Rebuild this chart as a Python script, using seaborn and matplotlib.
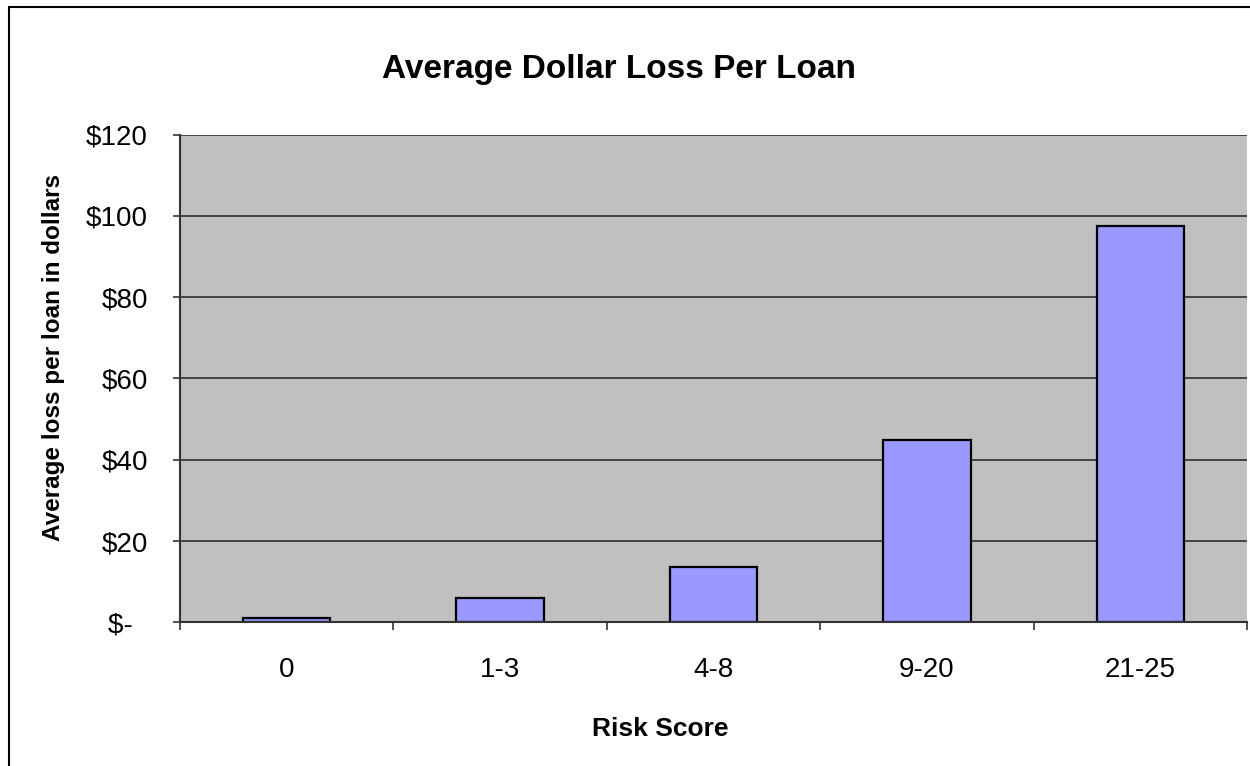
import matplotlib
matplotlib.use("Agg")
import matplotlib.pyplot as plt
import matplotlib.patches as mpatches
from matplotlib.ticker import FixedLocator, FuncFormatter
import seaborn as sns
import pandas as pd

# Risk score buckets and average loss per loan (USD)
risk_scores = ["0", "1-3", "4-8", "9-20", "21-25"]
avg_loss = [1.1, 6.1, 13.7, 44.8, 97.5]
y_ticks = [0, 20, 40, 60, 80, 100, 120]

df = pd.DataFrame({"Risk Score": risk_scores, "Loss": avg_loss})

sns.set_theme(style="white")
plt.rcParams["font.family"] = ["Liberation Sans", "DejaVu Sans"]
plt.rcParams.update({"text.color": "black", "axes.labelcolor": "black",
                     "xtick.color": "black", "ytick.color": "black"})

fig = plt.figure(figsize=(12.5, 7.66), dpi=100)
fig.patch.set_facecolor("white")
ax = fig.add_axes([0.144, 0.1876, 0.8536, 0.6366])
ax.set_facecolor("#C0C0C0")

sns.barplot(data=df, x="Risk Score", y="Loss", color="#9999FF",
            edgecolor="black", linewidth=1.6, width=0.41, saturation=1, ax=ax)

ax.set_ylim(0, 120)
ax.set_xlim(-0.5, len(risk_scores) - 0.5)
ax.yaxis.set_major_locator(FixedLocator(y_ticks))
ax.yaxis.set_major_formatter(FuncFormatter(
    lambda v, p: "$-  " if v == 0 else f"${v:.0f}"))
ax.grid(axis="y", color="#222222", linewidth=1.1)
ax.set_axisbelow(True)

for side in ["top", "right"]:
    ax.spines[side].set_visible(False)
for side in ["left", "bottom"]:
    ax.spines[side].set_color("#333333")
    ax.spines[side].set_linewidth(1.5)

# Tick marks at the category boundaries, labels centred under bars
ax.xaxis.set_minor_locator(FixedLocator([i + 0.5 for i in range(-1, len(risk_scores))]))
ax.tick_params(axis="x", which="major", length=0, pad=25, labelsize=20)
ax.tick_params(axis="x", which="minor", bottom=True, length=5.5, width=1.1, color="#222222")
ax.tick_params(axis="y", which="major", left=True, length=5, width=1.1, color="#222222",
               pad=18, labelsize=20)

ax.set_xlabel("Risk Score", fontsize=19, fontweight="bold")
ax.xaxis.set_label_coords(0.45, -0.195)
ax.set_ylabel("Average loss per loan in dollars", fontsize=17.5, fontweight="bold", va="center")
ax.yaxis.set_label_coords(-0.119, 0.543)

fig.text(0.495, 0.898, "Average Dollar Loss Per Loan", fontsize=24, fontweight="bold",
         ha="center", va="baseline")

# Chart border
fig.patches.append(mpatches.Rectangle((0.0068, -0.01), 1.0, 1.0009, transform=fig.transFigure,
                                      fill=False, edgecolor="black", linewidth=1.5))

fig.savefig("out.png", dpi=100)
